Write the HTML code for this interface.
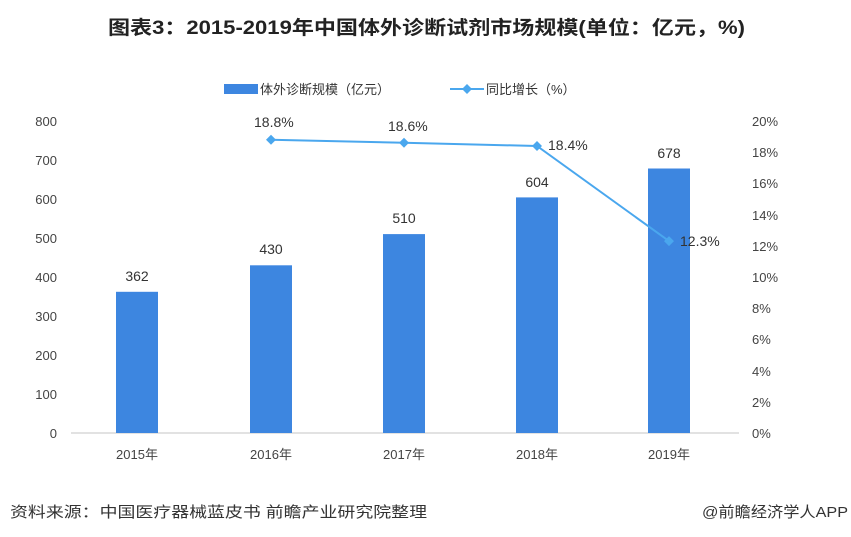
<!DOCTYPE html>
<html><head><meta charset="utf-8"><style>
body{margin:0;background:#fff;}
svg text{font-family:"Liberation Sans","Noto Sans CJK SC",sans-serif;}
</style></head><body>
<svg width="851" height="532" xmlns="http://www.w3.org/2000/svg">
<rect width="851" height="532" fill="#fff"/>
<text x="108" y="34" textLength="637" lengthAdjust="spacingAndGlyphs" font-size="19" font-weight="bold" fill="#222">图表3：2015-2019年中国体外诊断试剂市场规模(单位：亿元，%)</text>
<!-- legend -->
<rect x="224" y="84" width="34" height="10" fill="#3d86e0"/>
<text x="260" y="94" font-size="13" fill="#333">体外诊断规模（亿元）</text>
<line x1="450" y1="89" x2="484" y2="89" stroke="#4aa7ee" stroke-width="2"/>
<path d="M467 84 L472 89 L467 94 L462 89Z" fill="#4aa7ee"/>
<text x="486" y="94" font-size="13" fill="#333">同比增长（%）</text>
<g font-size="13" fill="#444" text-anchor="end">
<text x="57" y="126">800</text><text x="57" y="165">700</text><text x="57" y="204">600</text><text x="57" y="243">500</text><text x="57" y="282">400</text><text x="57" y="321">300</text><text x="57" y="360">200</text><text x="57" y="399">100</text><text x="57" y="438">0</text>
</g>
<g font-size="13" fill="#444">
<text x="752" y="126">20%</text><text x="752" y="157">18%</text><text x="752" y="188">16%</text><text x="752" y="220">14%</text><text x="752" y="251">12%</text><text x="752" y="282">10%</text><text x="752" y="313">8%</text><text x="752" y="344">6%</text><text x="752" y="376">4%</text><text x="752" y="407">2%</text><text x="752" y="438">0%</text>
</g>
<line x1="71" y1="433" x2="739" y2="433" stroke="#d9d9d9" stroke-width="1.5"/>
<g fill="#3d86e0">
<rect x="116" y="291.8" width="42" height="141.2"/>
<rect x="250" y="265.3" width="42" height="167.7"/>
<rect x="383" y="234.1" width="42" height="198.9"/>
<rect x="516" y="197.4" width="42" height="235.6"/>
<rect x="648" y="168.5" width="42" height="264.5"/>
</g>
<g font-size="14" fill="#333" text-anchor="middle">
<text x="137" y="281">362</text><text x="271" y="254">430</text><text x="404" y="223">510</text><text x="537" y="187">604</text><text x="669" y="158">678</text>
</g>
<polyline points="271,139.7 404,142.8 537,146 669,241.1" fill="none" stroke="#4aa7ee" stroke-width="2"/>
<g fill="#4aa7ee">
<path d="M271 134.7l5 5-5 5-5-5z"/><path d="M404 137.8l5 5-5 5-5-5z"/><path d="M537 141l5 5-5 5-5-5z"/><path d="M669 236.1l5 5-5 5-5-5z"/>
</g>
<g font-size="14" fill="#333">
<text x="254" y="127">18.8%</text><text x="388" y="131">18.6%</text><text x="548" y="150">18.4%</text><text x="680" y="246">12.3%</text>
</g>
<g font-size="13" fill="#444" text-anchor="middle">
<text x="137" y="459">2015年</text><text x="271" y="459">2016年</text><text x="404" y="459">2017年</text><text x="537" y="459">2018年</text><text x="669" y="459">2019年</text>
</g>
<text x="10" y="517" font-size="15" textLength="417" lengthAdjust="spacingAndGlyphs" fill="#333">资料来源：中国医疗器械蓝皮书 前瞻产业研究院整理</text>
<text x="702" y="517" font-size="15" textLength="146" lengthAdjust="spacingAndGlyphs" fill="#333">@前瞻经济学人APP</text>
</svg>
</body></html>
